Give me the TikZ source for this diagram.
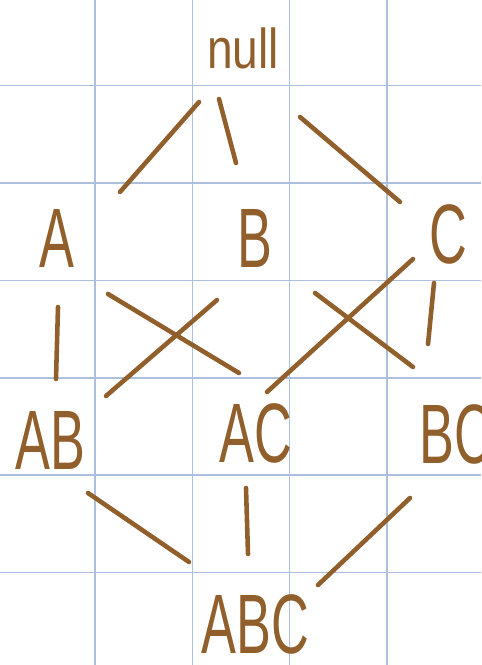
\documentclass[tikz,border=0pt]{standalone}
\usepackage{fontspec}
\setmainfont{Liberation Sans}
\usepackage{xcolor}
\usetikzlibrary{calc}

\definecolor{ink}{RGB}{145,95,43}
\definecolor{paper}{RGB}{172,192,222}

\newcommand{\hand}[1]{\scalebox{0.62}[1]{#1}}

\begin{document}
\begin{tikzpicture}[
    x=0.02cm, y=-0.02cm,
    set/.style={inner sep=0pt, text=ink, font=\fontsize{48}{48}\selectfont},
    empty/.style={inner sep=0pt, text=ink, font=\fontsize{32}{32}\selectfont},
    edge/.style={draw=ink, line width=2.6pt, line cap=round},
    rule/.style={draw=paper, line width=0.8pt},
]
    \useasboundingbox (0,0) rectangle (481,665);

    % Squared paper
    \foreach \gx in {95,192.5,289.5,387}
        \draw[rule] (\gx,0) -- (\gx,665);
    \foreach \gy in {85.5,183,280.5,378,475,572.5}
        \draw[rule] (0,\gy) -- (481,\gy);

    % Sets
    \node[empty] (null) at (243,48) {\scalebox{0.82}[1]{null}};
    \node[set] (A) at (57,238) {\hand{A}};
    \node[set] (B) at (255,238) {\hand{B}};
    \node[set] (C) at (448,234) {\hand{C}};
    \node[set] (AB) at (50,440) {\hand{AB}};
    \node[set] (AC) at (256,433) {\hand{AC}};
    \node[set] (BC) at (456,434) {\hand{BC}};
    \node[set] (ABC) at (255,624) {\hand{ABC}};

    % Strokes, top row
    \draw[edge] ($(null)+(-44,54)$) -- ($(A)+(63,-46)$);
    \draw[edge] ($(null)+(-24,51)$) -- ($(B)+(-19,-75)$);
    \draw[edge] ($(null)+(57,69)$) -- ($(C)+(-48,-32)$);

    % Strokes, middle row
    \draw[edge] ($(A)+(1,69)$) -- ($(AB)+(6,-61)$);
    \draw[edge] ($(A)+(51,56)$) -- ($(AC)+(-17,-60)$);
    \draw[edge] ($(B)+(-38,62)$) -- ($(AB)+(56,-44)$);
    \draw[edge] ($(B)+(60,55)$) -- ($(BC)+(-43,-67)$);
    \draw[edge] ($(C)+(-35,25)$) -- ($(AC)+(11,-41)$);
    \draw[edge] ($(C)+(-14,49)$) -- ($(BC)+(-28,-90)$);

    % Strokes, bottom row
    \draw[edge] ($(AB)+(38,53)$) -- ($(ABC)+(-66,-62)$);
    \draw[edge] ($(AC)+(-10,55)$) -- ($(ABC)+(-7,-70)$);
    \draw[edge] ($(BC)+(-46,64)$) -- ($(ABC)+(63,-39)$);
\end{tikzpicture}
\end{document}
